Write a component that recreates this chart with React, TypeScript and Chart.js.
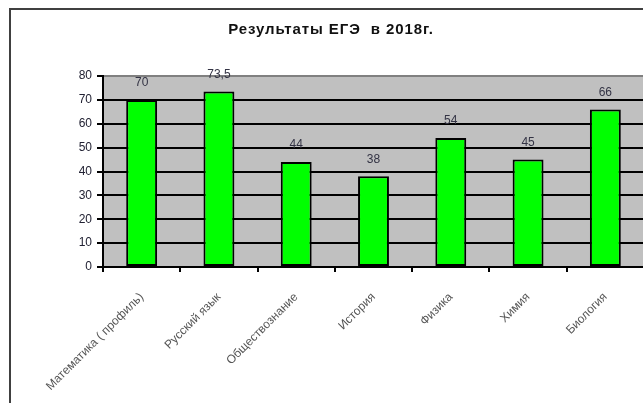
import React, { useEffect, useRef } from "react";
import { Chart, registerables } from "chart.js";

Chart.register(...registerables);

const chartTitle = "Результаты ЕГЭ  в 2018г.";
const subjects = [
  "Математика ( профиль)",
  "Русский язык",
  "Обществознание",
  "История",
  "Физика",
  "Химия",
  "Биология",
];
const scores = [70, 73.5, 44, 38, 54, 45, 66];
const yMin = 0;
const yMax = 80;
const yStep = 10;

const FONT = "'Liberation Sans', Arial, sans-serif";

const plotBackground = {
  id: "plotBackground",
  beforeDraw(chart: any) {
    const { ctx, chartArea } = chart;
    ctx.save();
    ctx.fillStyle = "#C0C0C0";
    ctx.fillRect(chartArea.left, chartArea.top, chartArea.right - chartArea.left, chartArea.bottom - chartArea.top);
    ctx.restore();
  },
};

const titlePlugin = {
  id: "titlePlugin",
  afterDraw(chart: any) {
    const { ctx } = chart;
    ctx.save();
    ctx.font = `bold 15px ${FONT}`;
    (ctx as any).letterSpacing = "0.9px";
    ctx.fillStyle = "#111111";
    ctx.textAlign = "center";
    ctx.textBaseline = "middle";
    ctx.fillText(chartTitle, chart.width / 2, 20);
    ctx.restore();
  },
};

const valueLabels = {
  id: "valueLabels",
  afterDatasetsDraw(chart: any) {
    const { ctx } = chart;
    const meta = chart.getDatasetMeta(0);
    const data = chart.data.datasets[0].data as number[];
    ctx.save();
    ctx.font = `12px ${FONT}`;
    ctx.fillStyle = "#333344";
    ctx.textAlign = "center";
    ctx.textBaseline = "middle";
    meta.data.forEach((el: any, i: number) => {
      ctx.fillText(String(data[i]).replace(".", ","), el.x, el.y - 17);
    });
    ctx.restore();
  },
};

export default function App() {
  const ref = useRef<HTMLCanvasElement>(null);

  useEffect(() => {
    document.body.style.margin = "0";
    if (!ref.current) return;
    const chart = new Chart(ref.current, {
      type: "bar",
      data: {
        labels: subjects,
        datasets: [
          {
            data: scores,
            backgroundColor: "#00FF00",
            borderColor: "#000000",
            borderWidth: 2,
            borderSkipped: false,
            barPercentage: 0.4,
            categoryPercentage: 1,
          },
        ],
      },
      options: {
        responsive: false,
        animation: false,
        layout: { padding: { left: 0, right: 7, top: 66, bottom: 0 } },
        plugins: {
          legend: { display: false },
          tooltip: { enabled: false },
          title: { display: false },
        },
        scales: {
          x: {
            offset: true,
            grid: {
              display: true,
              offset: true,
              drawOnChartArea: false,
              color: "#000000",
              tickLength: 5,
              lineWidth: 2,
            },
            border: { display: true, color: "#000000", width: 2 },
            ticks: {
              autoSkip: false,
              maxRotation: 45,
              minRotation: 45,
              padding: 18,
              color: "#555555",
              font: { family: FONT, size: 12 },
            },
            afterFit: (s: any) => {
              s.height = 143;
            },
          },
          y: {
            min: yMin,
            max: yMax,
            ticks: {
              stepSize: yStep,
              padding: 5,
              color: "#222233",
              font: { family: FONT, size: 12 },
            },
            grid: {
              color: (c: any) => (c.tick && c.tick.value === yMax ? "#808080" : "#000000"),
              tickColor: "#000000",
              lineWidth: 2,
              tickLength: 6,
            },
            border: { display: true, color: "#000000", width: 2 },
            afterFit: (s: any) => {
              s.width = 92;
            },
          },
        },
      },
      plugins: [plotBackground, valueLabels, titlePlugin],
    });
    return () => chart.destroy();
  }, []);

  return (
    <div style={{ position: "relative", width: 643, height: 403, overflow: "hidden", background: "#fff" }}>
      <div
        style={{
          position: "absolute",
          left: 9,
          top: 8,
          width: 660,
          height: 410,
          borderLeft: "2px solid #404040",
          borderTop: "2px solid #404040",
        }}
      >
        <canvas ref={ref} width={640} height={400} style={{ display: "block" }} />
      </div>
    </div>
  );
}
